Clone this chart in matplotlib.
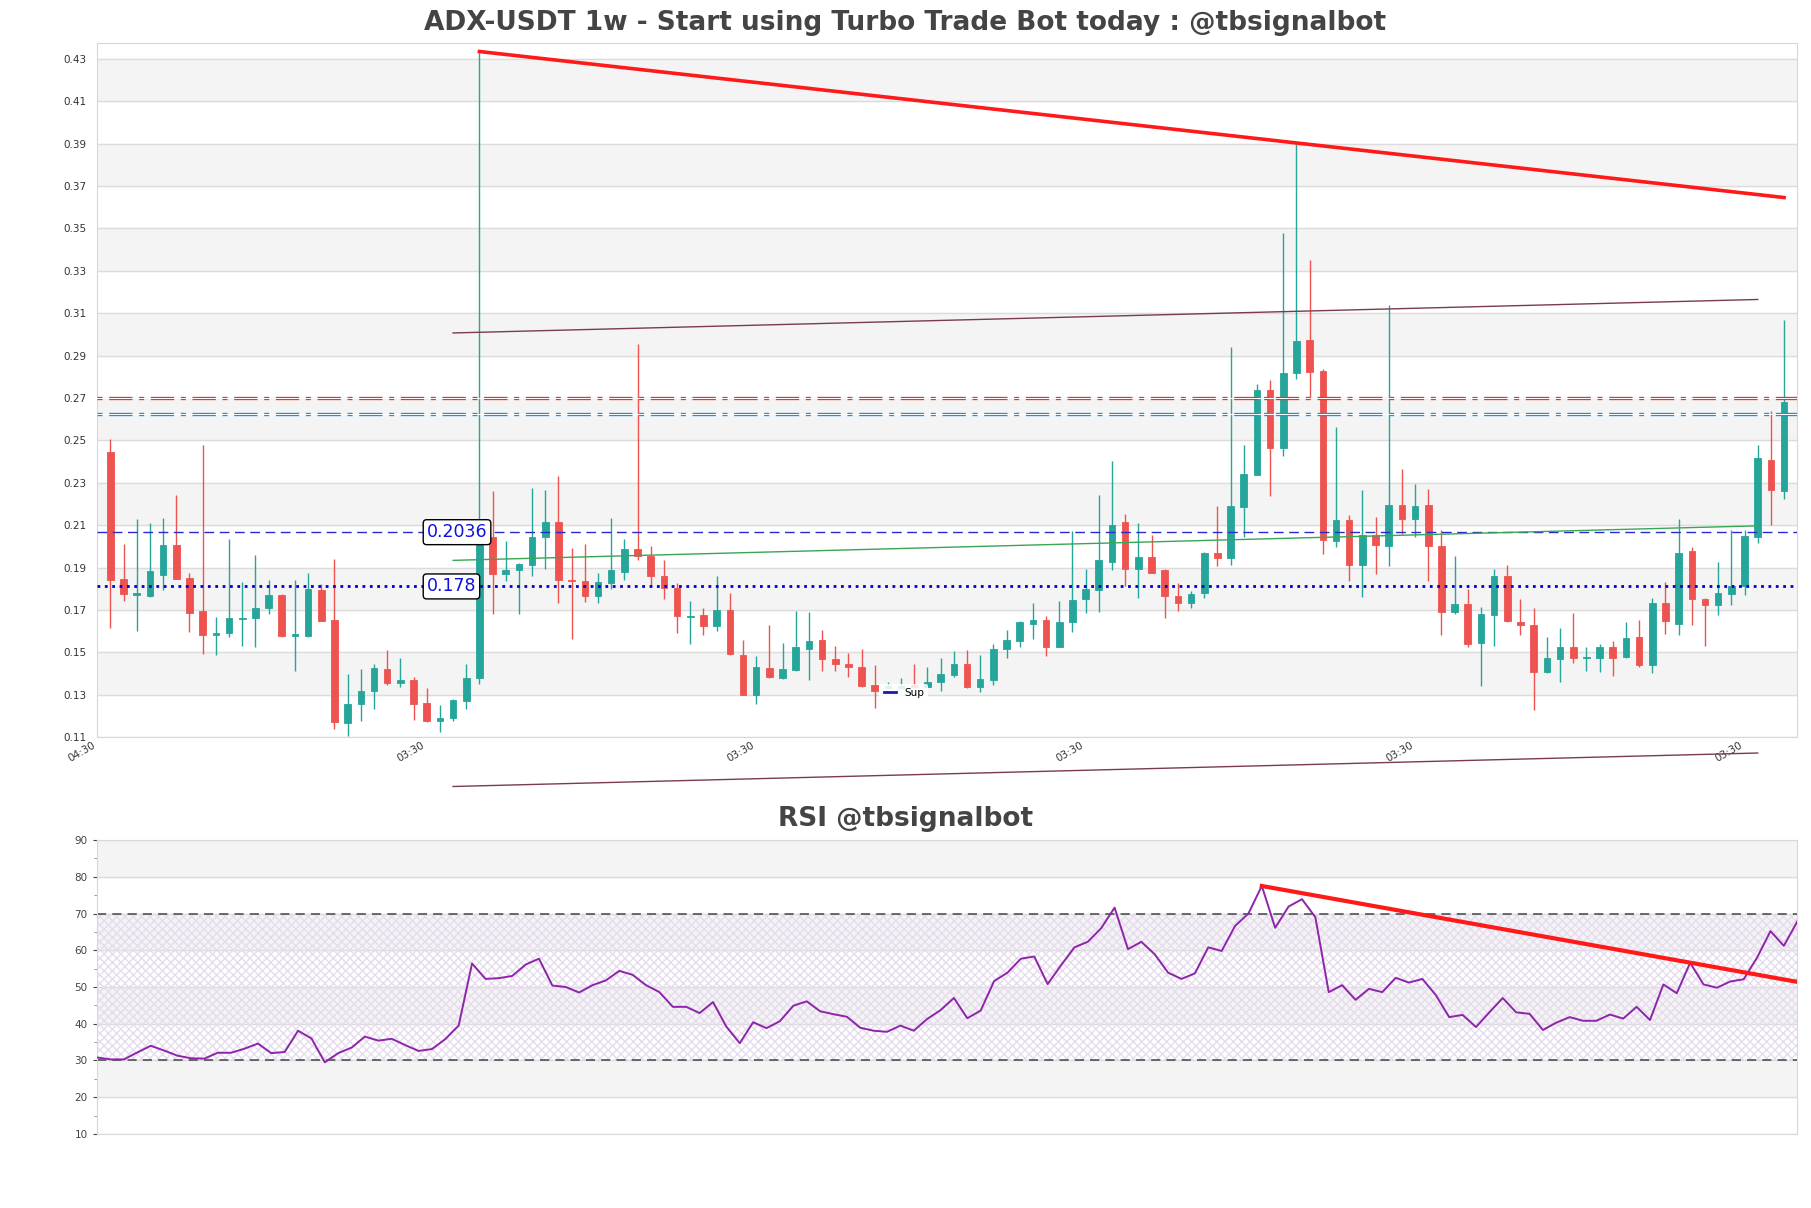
import matplotlib
matplotlib.use("Agg")
import matplotlib.pyplot as plt
import numpy as np

# weekly candles
opens = [0.2414, 0.1814, 0.1741, 0.1736, 0.1834, 0.1975, 0.1821, 0.1665, 0.1552, 0.1561,
         0.1628, 0.1630, 0.1676, 0.1741, 0.1544, 0.1546, 0.1762, 0.1622, 0.1134, 0.1227,
         0.1288, 0.1390, 0.1325, 0.1338, 0.1229, 0.1145, 0.1158, 0.1238, 0.1346, 0.2011,
         0.1840, 0.1856, 0.1879, 0.2012, 0.2085, 0.1812, 0.1806, 0.1736, 0.1797, 0.1849,
         0.1957, 0.1925, 0.1827, 0.1773, 0.1637, 0.1645, 0.1591, 0.1669, 0.1457, 0.1268,
         0.1394, 0.1346, 0.1388, 0.1487, 0.1528, 0.1437, 0.1416, 0.1401, 0.1314, 0.1303,
         0.1303, 0.1314, 0.1307, 0.1329, 0.1362, 0.1416, 0.1307, 0.1340, 0.1483, 0.1524,
         0.1604, 0.1622, 0.1496, 0.1611, 0.1719, 0.1765, 0.1897, 0.2085, 0.1860, 0.1919,
         0.1856, 0.1734, 0.1702, 0.1747, 0.1940, 0.1916, 0.2157, 0.2304, 0.2707, 0.2432,
         0.2787, 0.2943, 0.2796, 0.1996, 0.2094, 0.1882, 0.2022, 0.1973, 0.2165, 0.2098,
         0.2165, 0.1973, 0.1661, 0.1695, 0.1513, 0.1643, 0.1827, 0.1613, 0.1598, 0.1377,
         0.1437, 0.1496, 0.1444, 0.1444, 0.1496, 0.1448, 0.1541, 0.1409, 0.1704, 0.1604,
         0.1947, 0.1723, 0.1691, 0.1745, 0.1780, 0.2012, 0.2378, 0.2228]
highs = [0.2475, 0.1981, 0.2098, 0.2077, 0.2102, 0.2211, 0.1843, 0.2449, 0.1637, 0.2005,
         0.1799, 0.1929, 0.1810, 0.1745, 0.1810, 0.1843, 0.1791, 0.1910, 0.1368, 0.1390,
         0.1416, 0.1481, 0.1442, 0.1355, 0.1301, 0.1221, 0.1249, 0.1416, 0.4304, 0.2228,
         0.1994, 0.1890, 0.2246, 0.2235, 0.2300, 0.1962, 0.1981, 0.1843, 0.2103, 0.2003,
         0.2926, 0.1973, 0.1903, 0.1795, 0.1712, 0.1680, 0.1827, 0.1747, 0.1528, 0.1453,
         0.1600, 0.1513, 0.1665, 0.1661, 0.1574, 0.1498, 0.1466, 0.1485, 0.1409, 0.1329,
         0.1346, 0.1416, 0.1398, 0.1442, 0.1476, 0.1481, 0.1455, 0.1507, 0.1574, 0.1617,
         0.1702, 0.1639, 0.1712, 0.2040, 0.1860, 0.2211, 0.2371, 0.2120, 0.2077, 0.2022,
         0.1860, 0.1795, 0.1758, 0.1942, 0.2159, 0.2911, 0.2449, 0.2733, 0.2755, 0.3446,
         0.3868, 0.3322, 0.2807, 0.2532, 0.2115, 0.2233, 0.2109, 0.3109, 0.2334, 0.2265,
         0.2239, 0.2044, 0.1925, 0.1769, 0.1682, 0.1864, 0.1882, 0.1719, 0.1680, 0.1542,
         0.1582, 0.1654, 0.1496, 0.1509, 0.1524, 0.1611, 0.1622, 0.1726, 0.1799, 0.2098,
         0.1964, 0.1726, 0.1897, 0.2044, 0.2048, 0.2445, 0.2607, 0.3039]
lows = [0.1585, 0.1710, 0.1572, 0.1732, 0.1762, 0.1814, 0.1563, 0.1463, 0.1455, 0.1541,
        0.1500, 0.1496, 0.1652, 0.1542, 0.1383, 0.1541, 0.1615, 0.1106, 0.1075, 0.1145,
        0.1203, 0.1314, 0.1307, 0.1151, 0.1141, 0.1091, 0.1143, 0.1203, 0.1318, 0.1648,
        0.1808, 0.1648, 0.1827, 0.1860, 0.1700, 0.1531, 0.1708, 0.1702, 0.1767, 0.1810,
        0.1903, 0.1784, 0.1719, 0.1561, 0.1507, 0.1552, 0.1572, 0.1455, 0.1266, 0.1227,
        0.1346, 0.1344, 0.1379, 0.1340, 0.1383, 0.1383, 0.1351, 0.1307, 0.1206, 0.1301,
        0.1301, 0.1303, 0.1305, 0.1286, 0.1355, 0.1303, 0.1281, 0.1314, 0.1442, 0.1492,
        0.1531, 0.1453, 0.1496, 0.1563, 0.1654, 0.1658, 0.1856, 0.1784, 0.1726, 0.1843,
        0.1632, 0.1665, 0.1676, 0.1726, 0.1877, 0.1882, 0.2012, 0.2304, 0.2209, 0.2397,
        0.2759, 0.2672, 0.1931, 0.1968, 0.1806, 0.1730, 0.1838, 0.1877, 0.2027, 0.2012,
        0.1806, 0.1550, 0.1648, 0.1492, 0.1312, 0.1498, 0.1611, 0.1550, 0.1199, 0.1373,
        0.1329, 0.1420, 0.1383, 0.1377, 0.1357, 0.1444, 0.1398, 0.1373, 0.1556, 0.1550,
        0.1600, 0.1498, 0.1643, 0.1691, 0.1741, 0.1986, 0.2070, 0.2191]
closes = [0.1812, 0.1743, 0.1747, 0.1853, 0.1975, 0.1817, 0.1656, 0.1552, 0.1561, 0.1630,
          0.1632, 0.1678, 0.1741, 0.1544, 0.1554, 0.1769, 0.1619, 0.1141, 0.1225, 0.1286,
          0.1396, 0.1325, 0.1338, 0.1227, 0.1145, 0.1160, 0.1242, 0.1349, 0.2022, 0.1838,
          0.1858, 0.1886, 0.2014, 0.2085, 0.1812, 0.1804, 0.1736, 0.1799, 0.1856, 0.1957,
          0.1925, 0.1827, 0.1773, 0.1639, 0.1641, 0.1591, 0.1667, 0.1459, 0.1268, 0.1398,
          0.1351, 0.1390, 0.1492, 0.1524, 0.1437, 0.1416, 0.1398, 0.1312, 0.1286, 0.1312,
          0.1312, 0.1305, 0.1329, 0.1366, 0.1416, 0.1307, 0.1344, 0.1485, 0.1528, 0.1611,
          0.1622, 0.1496, 0.1611, 0.1715, 0.1767, 0.1903, 0.2070, 0.1860, 0.1921, 0.1845,
          0.1736, 0.1702, 0.1745, 0.1936, 0.1916, 0.2159, 0.2311, 0.2707, 0.2432, 0.2787,
          0.2939, 0.2794, 0.2001, 0.2094, 0.1882, 0.2022, 0.1975, 0.2165, 0.2098, 0.2159,
          0.1973, 0.1661, 0.1695, 0.1507, 0.1648, 0.1827, 0.1615, 0.1600, 0.1377, 0.1444,
          0.1496, 0.1444, 0.1448, 0.1496, 0.1444, 0.1537, 0.1409, 0.1704, 0.1615, 0.1940,
          0.1719, 0.1691, 0.1747, 0.1784, 0.2016, 0.2384, 0.2233, 0.2651]

rsi = [30.8, 30.3, 30.3, 32.2, 34.0, 32.7, 31.3, 30.6, 30.5, 32.1,
       32.1, 33.2, 34.6, 32.0, 32.3, 38.1, 36.0, 29.5, 32.0, 33.5,
       36.5, 35.4, 35.9, 34.2, 32.6, 33.1, 35.8, 39.5, 56.4, 52.2,
       52.4, 53.0, 56.1, 57.7, 50.4, 50.0, 48.5, 50.5, 51.8, 54.4,
       53.3, 50.5, 48.6, 44.6, 44.6, 42.9, 45.9, 39.2, 34.7, 40.4,
       38.8, 40.7, 44.9, 46.1, 43.4, 42.6, 41.9, 38.9, 38.1, 37.8,
       39.5, 38.1, 41.3, 43.7, 47.0, 41.5, 43.6, 51.6, 53.9, 57.7,
       58.3, 50.8, 55.9, 60.8, 62.3, 66.0, 71.6, 60.3, 62.3, 58.9,
       53.9, 52.2, 53.7, 60.8, 59.8, 66.6, 70.0, 77.5, 66.1, 71.9,
       73.9, 69.0, 48.6, 50.5, 46.5, 49.5, 48.6, 52.5, 51.2, 52.2,
       47.8, 41.8, 42.4, 39.1, 43.1, 47.0, 43.1, 42.7, 38.3, 40.3,
       41.8, 40.8, 40.8, 42.5, 41.4, 44.6, 41.0, 50.7, 48.3, 56.6,
       50.7, 49.8, 51.5, 52.1, 58.0, 65.2, 61.2, 67.8]

tick_pos = [-1, 24, 49, 74, 99, 124]
tick_labels = ["04:30", "03:30", "03:30", "03:30", "03:30", "03:30"]

res_lines = [0.2670, 0.2592]      # red / blue horizontal levels
level_hi = 0.2036
level_lo = 0.178
# trend lines: (x0, y0, x1, y1)
down_trend = (28, 0.4304, 127, 0.3615)
chan_top = (26, 0.2976, 125, 0.3134)
chan_bot = (26, 0.0836, 125, 0.0994)
mid_line = (26, 0.1903, 125, 0.2066)
rsi_trend = (87, 77.5, 127, 51.4)

y_min, y_max = 0.1069, 0.4343
up_c = "#26a69a"
dn_c = "#ef5350"

fig = plt.figure(figsize=(18.11, 12.08), dpi=100)
ax = fig.add_axes([0.0537, 0.3898, 0.9387, 0.5744])
ax2 = fig.add_axes([0.0537, 0.0613, 0.9387, 0.2433])

# main chart background
yt = y_min + 0.02 * np.arange(17)
for k in range(1, 16, 2):
    ax.axhspan(yt[k], yt[k + 1], color="#f4f4f4", zorder=0)
for t in yt:
    ax.axhline(t, color="#dcdcdc", lw=1, zorder=0.5)

o = np.array(opens)
h = np.array(highs)
l = np.array(lows)
c = np.array(closes)
x = np.arange(len(o))
cols = np.where(c >= o, up_c, dn_c)
ax.vlines(x, l, h, colors=cols, lw=1, zorder=2)
ax.bar(x, c - o, bottom=o, width=0.5, color=cols, edgecolor=cols, lw=0.6, zorder=3)

# horizontal levels
ax.axhline(res_lines[0], color="#f03030", lw=2.4, dashes=(1.5, 2, 7, 2), zorder=4)
ax.axhline(res_lines[0], color="white", lw=0.7, zorder=4.1)
ax.axhline(res_lines[1], color="#1e90e0", lw=2.4, dashes=(1.5, 2, 7, 2), zorder=4)
ax.axhline(res_lines[1], color="white", lw=0.7, zorder=4.1)
ax.axhline(level_hi, color="#2a2acc", lw=1, dashes=(7, 4), zorder=4)
ax.axhline(level_lo, color="#0000cc", lw=2, ls=":", zorder=4)
bb = dict(boxstyle="round,pad=0.2", fc="white", ec="black", lw=1)
ax.text(24, level_hi, "0.2036", color="#1010dd", fontsize=12.5, ha="left", va="center", bbox=bb, zorder=6)
ax.text(24, level_lo, "0.178", color="#1010dd", fontsize=12.5, ha="left", va="center", bbox=bb, zorder=6)

# trend lines
ax.plot(down_trend[0::2], down_trend[1::2], color="#ff1a1a", lw=2.6, zorder=5)
ax.plot(chan_top[0::2], chan_top[1::2], color="#7a3b4e", lw=1, zorder=5)
ax.plot(chan_bot[0::2], chan_bot[1::2], color="#7a3b4e", lw=1, zorder=5, clip_on=False)
ax.plot(mid_line[0::2], mid_line[1::2], color="#3aa655", lw=1, zorder=5)

ax.plot([], [], color="#1a1aaa", lw=2, label="Sup")
leg = ax.legend(loc="lower left", bbox_to_anchor=(0.457, 0.043), fontsize=7.5,
                handlelength=1.2, frameon=True, framealpha=0.85, edgecolor="none",
                borderpad=0.4)

ax.set_xlim(-1, len(o))
ax.set_ylim(y_min, y_max)
ax.set_yticks(yt)
ax.set_yticklabels(["%.2f" % t for t in yt])
ax.set_xticks(tick_pos)
ax.set_xticklabels(tick_labels, rotation=30, ha="right")
ax.tick_params(axis="both", length=0, labelsize=7.5, colors="#333333")
ax.tick_params(axis="y", pad=8)
ax.tick_params(axis="x", pad=2)
for s in ax.spines.values():
    s.set_color("#d8d8d8")

# RSI panel
for a, b in [(20, 30), (40, 50), (60, 70), (80, 90)]:
    ax2.axhspan(a, b, color="#f4f4f4", zorder=0)
for t in range(10, 100, 10):
    ax2.axhline(t, color="#dcdcdc", lw=1, zorder=0.5)
ax2.fill_between([0, len(rsi) - 1], 30, 70, facecolor="none", hatch="xxxx",
                 edgecolor="#e6dcee", lw=0, zorder=1)
ax2.axhline(30, color="#444444", lw=1.1, dashes=(6, 4), zorder=2)
ax2.axhline(70, color="#444444", lw=1.1, dashes=(6, 4), zorder=2)
ax2.plot(np.arange(len(rsi)), rsi, color="#8e24aa", lw=1.4, zorder=3)
ax2.plot(rsi_trend[0::2], rsi_trend[1::2], color="#ff1a1a", lw=3, zorder=4)
ax2.set_xlim(0, len(rsi) - 1)
ax2.set_ylim(10, 90)
ax2.set_yticks(range(10, 100, 10))
ax2.set_yticks(range(15, 90, 10), minor=True)
ax2.set_xticks([])
ax2.tick_params(axis="y", which="major", length=3, labelsize=7.5, colors="#444444", pad=4)
ax2.tick_params(axis="y", which="minor", length=2, colors="#888888")
for s in ax2.spines.values():
    s.set_color("#d8d8d8")

fig.text(0.5, 1 - 23 / 1208, "ADX-USDT 1w - Start using Turbo Trade Bot today : @tbsignalbot",
         ha="center", va="center", fontsize=19, fontweight="bold", color="#444444")
fig.text(0.5, 1 - 819 / 1208, "RSI @tbsignalbot", ha="center", va="center",
         fontsize=19, fontweight="bold", color="#444444")

fig.savefig("out.png", dpi=100)
